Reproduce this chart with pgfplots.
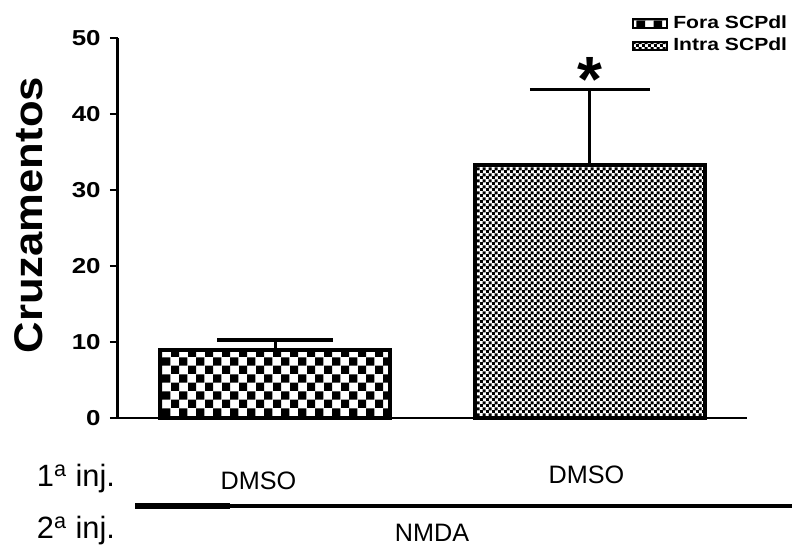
\documentclass[border=0pt]{standalone}
\usepackage{fontspec}
\setmainfont{Liberation Sans}
\usepackage{graphicx}
\usepackage{pgfplots}
\pgfplotsset{compat=1.18}
\usetikzlibrary{patterns}

\pgfdeclarepatternformonly{bigcheck}{\pgfpointorigin}{\pgfqpoint{8.6pt}{8.6pt}}{\pgfqpoint{8.6pt}{8.6pt}}{%
  \pgfpathrectangle{\pgfpointorigin}{\pgfqpoint{4.3pt}{4.3pt}}%
  \pgfpathrectangle{\pgfqpoint{4.3pt}{4.3pt}}{\pgfqpoint{4.3pt}{4.3pt}}%
  \pgfusepath{fill}}
\pgfdeclarepatternformonly{finecheck}{\pgfpointorigin}{\pgfqpoint{3pt}{3pt}}{\pgfqpoint{3pt}{3pt}}{%
  \pgfpathrectangle{\pgfpointorigin}{\pgfqpoint{1.7pt}{1.7pt}}%
  \pgfpathrectangle{\pgfqpoint{1.5pt}{1.5pt}}{\pgfqpoint{1.7pt}{1.7pt}}%
  \pgfusepath{fill}}

\begin{document}
\begin{tikzpicture}
\useasboundingbox (-59pt,-63.5pt) rectangle (337pt,209pt);
\begin{axis}[
  at={(0,0)}, anchor=south west,
  scale only axis, width=314.5pt, height=190pt,
  xmin=0.5, xmax=2.5, ymin=0, ymax=50,
  axis x line=bottom, axis y line=left,
  x axis line style={-, line width=1pt},
  y axis line style={-, line width=1.5pt},
  xtick=\empty,
  ytick={0,10,20,30,40,50},
  tick align=outside, major tick length=4pt,
  tick style={black, line width=1.2pt},
  yticklabel={\scalebox{1.2}[1]{\pgfmathprintnumber[assume math mode=true]{\tick}}},
  yticklabel style={font=\bfseries\fontsize{10.8}{11}\selectfont, inner sep=0pt, xshift=-4.5pt},
  ylabel={\scalebox{1.09}[1]{Cruzamentos}},
  ylabel style={font=\bfseries\fontsize{20}{20}\selectfont, at={(axis description cs:-0.1415,0.534)}, anchor=center},
  clip=false,
  legend style={at={(axis description cs:0.817,1.066)}, anchor=north west,
    draw=none, fill=none, inner sep=0pt, row sep=1.5pt,
    font=\bfseries\fontsize{8.8}{9}\selectfont,
    nodes={inner sep=1pt},
    /tikz/every odd column/.append style={column sep=1.5pt}},
  legend cell align=left,
  legend image code/.code={\draw[#1, line width=1pt] (0pt,-2.2pt) rectangle (17pt,2.2pt);},
]
\addplot[ybar, bar width=0.73, bar shift=0pt, draw=black, line width=2pt, pattern=bigcheck,
  error bars/.cd, y dir=plus, y explicit,
  error bar style={line width=1.6pt, solid},
  error mark options={rotate=90, mark size=29pt, line width=1.8pt}]
  coordinates {(1,9.0) +- (0,1.3)};
\addlegendentry{\scalebox{1.2}[1]{Fora SCPdl}}
\addplot[ybar, bar width=0.73, bar shift=0pt, draw=black, line width=2pt, pattern=finecheck,
  error bars/.cd, y dir=plus, y explicit,
  error bar style={line width=1.6pt, solid},
  error mark options={rotate=90, mark size=30pt, line width=1.8pt}]
  coordinates {(2,33.3) +- (0,9.9)};
\addlegendentry{\scalebox{1.2}[1]{Intra SCPdl}}
\node[font=\bfseries\fontsize{32}{32}\selectfont] at (axis cs:2,44.6) {*};
\end{axis}
\node[font=\fontsize{15.4}{16}\selectfont] at (-21pt,-30.5pt) {1\textsuperscript{a} inj.};
\node[font=\fontsize{15.4}{16}\selectfont] at (-21pt,-56.5pt) {2\textsuperscript{a} inj.};
\node[font=\fontsize{12.6}{13}\selectfont] at (70.25pt,-31.5pt) {DMSO};
\node[font=\fontsize{12.6}{13}\selectfont] at (234.25pt,-28.5pt) {DMSO};
\node[font=\fontsize{12.6}{13}\selectfont] at (157pt,-57.25pt) {NMDA};
\draw[line width=2.2pt] (8.5pt,-44pt) -- (337pt,-44pt);
\draw[line width=2.8pt] (8.5pt,-44pt) -- (56pt,-44pt);
\end{tikzpicture}
\end{document}
